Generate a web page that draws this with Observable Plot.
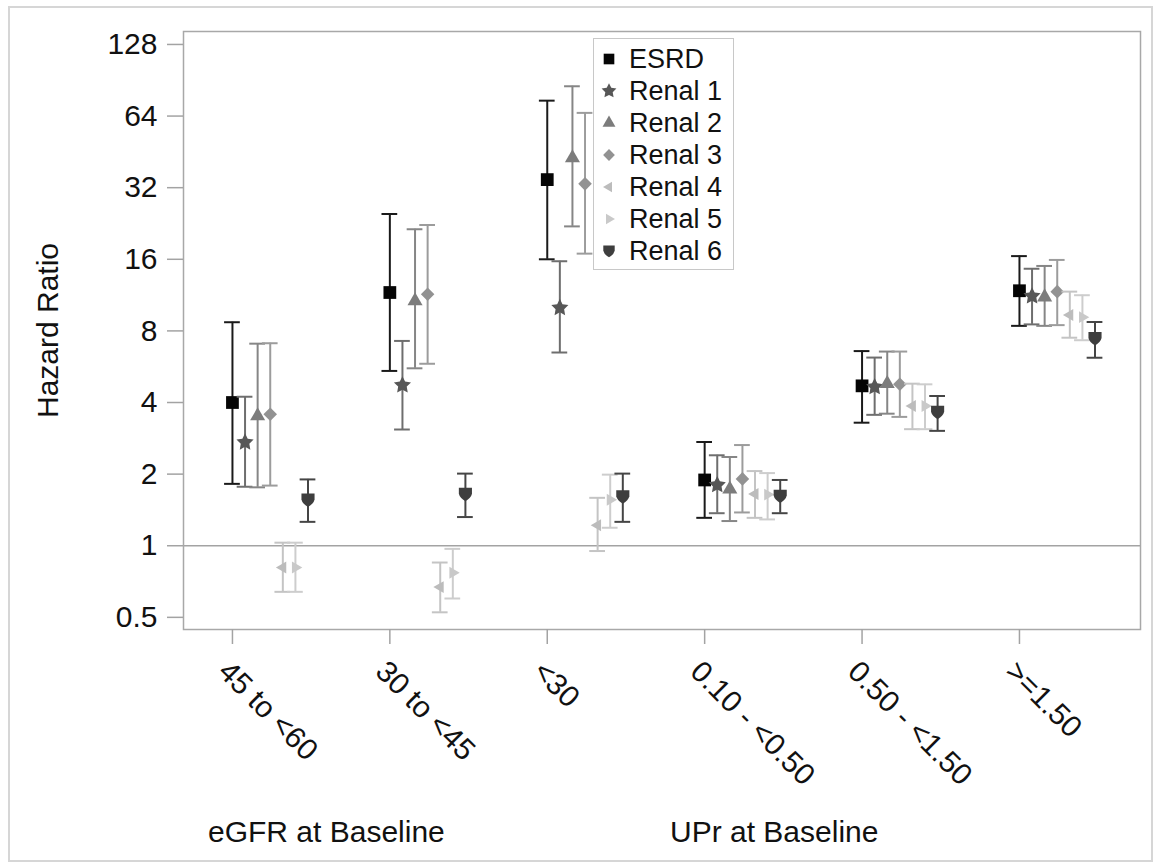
<!DOCTYPE html>
<html><head><meta charset="utf-8">
<script src="https://cdn.jsdelivr.net/npm/d3@7"></script>
<script src="https://cdn.jsdelivr.net/npm/@observablehq/plot@0.6"></script>
<style>
html,body{margin:0;padding:0;background:#fff;}
#wrap{position:relative;width:1157px;height:867px;overflow:hidden;font-family:"Liberation Sans",Arial,sans-serif;color:#111;}
#border{position:absolute;left:8px;top:6px;width:1145px;height:856px;border:2px solid #d6d6d6;box-sizing:border-box;}
#chart{position:absolute;left:0;top:0;}
.glabel{position:absolute;font-size:30px;white-space:nowrap;line-height:1;}
#legend{position:absolute;left:593px;top:38px;width:141px;height:232px;border:1.5px solid #c8c8c8;box-sizing:border-box;background:#fff;}
.lrow{position:absolute;left:0;height:32px;width:138px;}
.lrow svg{position:absolute;left:4px;top:5px;}
.lrow span{position:absolute;left:35px;top:0;line-height:32px;font-size:27px;}
</style></head>
<body>
<div id="wrap">
  <div id="border"></div>
  <div id="chart"></div>
  <div id="legend"></div>
  <div class="glabel" style="left:208px;top:817px;">eGFR at Baseline</div>
  <div class="glabel" style="left:670px;top:817px;">UPr at Baseline</div>
</div>
<script>
// ---- data ----
const categories = ["45 to <60", "30 to <45", "<30", "0.10 - <0.50", "0.50 - <1.50", ">=1.50"];
const seriesNames = ["ESRD", "Renal 1", "Renal 2", "Renal 3", "Renal 4", "Renal 5", "Renal 6"];
const yTicks = [0.5, 1, 2, 4, 8, 16, 32, 64, 128];

const hrESRD = [4.0, 11.6, 34.6, 1.89, 4.70, 11.8];
const loESRD = [1.82, 5.43, 16.0, 1.31, 3.29, 8.40];
const hiESRD = [8.7, 24.8, 74.3, 2.73, 6.58, 16.5];

const hrRenal1 = [2.72, 4.73, 10.0, 1.80, 4.65, 11.2];
const loRenal1 = [1.77, 3.08, 6.49, 1.37, 3.55, 8.52];
const hiRenal1 = [4.23, 7.26, 15.7, 2.40, 6.18, 14.6];

const hrRenal2 = [3.51, 10.7, 42.7, 1.73, 4.80, 11.1];
const loRenal2 = [1.76, 5.57, 22.0, 1.27, 3.59, 8.40];
const hiRenal2 = [7.07, 21.4, 85.4, 2.36, 6.55, 15.0];

const hrRenal3 = [3.57, 11.4, 33.2, 1.91, 4.77, 11.7];
const loRenal3 = [1.79, 5.82, 16.9, 1.38, 3.48, 8.46];
const hiRenal3 = [7.1, 22.3, 66.0, 2.65, 6.55, 15.9];

const hrRenal4 = [0.81, 0.67, 1.22, 1.65, 3.87, 9.33];
const loRenal4 = [0.64, 0.525, 0.95, 1.31, 3.09, 7.49];
const hiRenal4 = [1.03, 0.85, 1.59, 2.06, 4.80, 11.7];

const hrRenal5 = [0.81, 0.77, 1.56, 1.64, 3.87, 9.14];
const loRenal5 = [0.64, 0.60, 1.19, 1.29, 3.09, 7.31];
const hiRenal5 = [1.03, 0.97, 1.99, 2.02, 4.77, 11.3];

const hrRenal6 = [1.56, 1.65, 1.61, 1.62, 3.65, 7.45];
const loRenal6 = [1.26, 1.32, 1.26, 1.37, 3.04, 6.17];
const hiRenal6 = [1.90, 2.01, 2.01, 1.89, 4.26, 8.72];

// ---- styles ----
const HR = [hrESRD, hrRenal1, hrRenal2, hrRenal3, hrRenal4, hrRenal5, hrRenal6];
const LO = [loESRD, loRenal1, loRenal2, loRenal3, loRenal4, loRenal5, loRenal6];
const HI = [hiESRD, hiRenal1, hiRenal2, hiRenal3, hiRenal4, hiRenal5, hiRenal6];
const markColors = ["#050505", "#575757", "#7c7c7c", "#929292", "#bcbcbc", "#c9c9c9", "#3e3e3e"];
const barColors  = ["#1a1a1a", "#6e6e6e", "#868686", "#9c9c9c", "#c4c4c4", "#cdcdcd", "#454545"];

const fatStar = {draw(ctx, size) {
  const R = Math.sqrt(size / Math.PI), r = R * 0.5;
  for (let k = 0; k < 10; k++) {
    const a = -Math.PI / 2 + k * Math.PI / 5, rr = k % 2 ? r : R;
    const x = rr * Math.cos(a), y = rr * Math.sin(a);
    if (k === 0) ctx.moveTo(x, y); else ctx.lineTo(x, y);
  }
  ctx.closePath();
}};
const leftTriangle = {draw(ctx, size) {
  const R = Math.sqrt(size / Math.PI) * 1.15;
  ctx.moveTo(-R, 0); ctx.lineTo(R * 0.5, -R * 0.866); ctx.lineTo(R * 0.5, R * 0.866); ctx.closePath();
}};
const rightTriangle = {draw(ctx, size) {
  const R = Math.sqrt(size / Math.PI) * 1.15;
  ctx.moveTo(R, 0); ctx.lineTo(-R * 0.5, -R * 0.866); ctx.lineTo(-R * 0.5, R * 0.866); ctx.closePath();
}};
const shield = {draw(ctx, size) {
  const w = Math.sqrt(size / Math.PI) * 0.95;
  ctx.moveTo(-w, -w * 0.95); ctx.lineTo(w, -w * 0.95); ctx.lineTo(w, -0.05 * w);
  ctx.quadraticCurveTo(w * 0.85, w * 0.6, 0, w * 1.1);
  ctx.quadraticCurveTo(-w * 0.85, w * 0.6, -w, -0.05 * w); ctx.closePath();
}};
const symbols = [d3.symbolSquare, fatStar, d3.symbolTriangle, d3.symbolDiamond2, leftTriangle, rightTriangle, shield];
const radii = [7.2, 9.0, 5.6, 6.1, 6.0, 6.0, 6.9];

const step = 0.08;      // horizontal offset between series within a category
const capHalf = 0.05;   // half width of error-bar caps

const rows = [];
seriesNames.forEach((s, si) => categories.forEach((c, ci) => rows.push({
  series: s, si, ci, pos: ci + si * step, hr: HR[si][ci], lo: LO[si][ci], hi: HI[si][ci]
})));

const marks = [
  Plot.ruleY([1], {stroke: "#a3a3a3", strokeWidth: 1.5}),
  Plot.frame({stroke: "#a8a8a8", strokeWidth: 1.5}),
  Plot.axisY({ticks: yTicks, tickFormat: d => String(d), tickSize: 16, tickPadding: 10, fontSize: 30, stroke: "#a3a3a3", strokeWidth: 1.5, fill: "#111", label: null}),
  Plot.axisX({ticks: categories.map((c, i) => i), tickSize: 15, tickFormat: () => "", stroke: "#a3a3a3", strokeWidth: 1.5, label: null}),
  Plot.text(categories, {x: (d, i) => i, text: d => d, frameAnchor: "bottom", dx: -9, dy: 37, rotate: 45, textAnchor: "start", lineAnchor: "middle", fontSize: 30, fill: "#111"}),
  Plot.text(["Hazard Ratio"], {text: d => d, frameAnchor: "left", dx: -135, rotate: -90, textAnchor: "middle", lineAnchor: "middle", fontSize: 30, fill: "#111"})
];

seriesNames.forEach((s, si) => {
  const d = rows.filter(r => r.si === si);
  marks.push(
    Plot.ruleX(d, {x: "pos", y1: "lo", y2: "hi", stroke: barColors[si], strokeWidth: 2}),
    Plot.ruleY(d, {y: "lo", x1: r => r.pos - capHalf, x2: r => r.pos + capHalf, stroke: barColors[si], strokeWidth: 2}),
    Plot.ruleY(d, {y: "hi", x1: r => r.pos - capHalf, x2: r => r.pos + capHalf, stroke: barColors[si], strokeWidth: 2}),
    Plot.dot(d, {x: "pos", y: "hr", symbol: symbols[si], r: radii[si], fill: markColors[si], stroke: "none"})
  );
});

const chart = Plot.plot({
  width: 1157,
  height: 867,
  marginLeft: 183,
  marginRight: 17,
  marginTop: 31,
  marginBottom: 238,
  style: {fontFamily: "Liberation Sans, Arial, sans-serif", background: "transparent", overflow: "visible"},
  x: {type: "linear", domain: [-0.311, 5.769]},
  y: {type: "log", base: 2, domain: [0.4445, 145.1]},
  marks
});
document.getElementById("chart").appendChild(chart);

// ---- legend ----
const legend = document.getElementById("legend");
const legendR = [6.0, 7.8, 4.8, 5.3, 5.2, 5.2, 6.0];
seriesNames.forEach((s, si) => {
  const row = document.createElement("div");
  row.className = "lrow";
  row.style.top = (4 + si * 32) + "px";
  const path = d3.symbol(symbols[si], legendR[si] * legendR[si] * Math.PI)();
  row.innerHTML = `<svg width="22" height="22" viewBox="-11 -11 22 22"><path d="${path}" fill="${markColors[si]}"/></svg><span>${s}</span>`;
  legend.appendChild(row);
});
</script>
</body></html>
